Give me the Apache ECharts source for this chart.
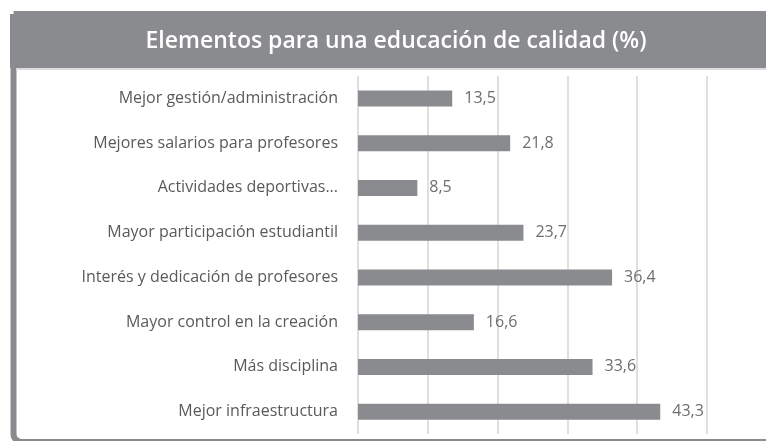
<!DOCTYPE html>
<html>
<head>
<meta charset="utf-8">
<title>Elementos para una educación de calidad</title>
<script src="https://cdn.jsdelivr.net/npm/echarts@6/dist/echarts.min.js"></script>
<style>
  html, body { margin: 0; padding: 0; background: #fff; }
  #chart { width: 766px; height: 441px; }
</style>
</head>
<body>
<div id="chart"></div>
<script>
// datos, de arriba hacia abajo
var titulo = 'Elementos para una educación de calidad (%)'
var categorias = [
  'Mejor gestión/administración',
  'Mejores salarios para profesores',
  'Actividades deportivas...',
  'Mayor participación estudiantil',
  'Interés y dedicación de profesores',
  'Mayor control en la creación',
  'Más disciplina',
  'Mejor infraestructura'
]
var valores = [13.5, 21.8, 8.5, 23.7, 36.4, 16.6, 33.6, 43.3]
var ejeMax = 50
var ejePaso = 10

var gris = '#8a8b8f'
var chart = echarts.init(document.getElementById('chart'))

var option = {
  animation: false,
  backgroundColor: '#fff',
  title: {
    text: titulo,
    left: 391,
    top: 25,
    textAlign: 'center',
    textStyle: {
      color: '#fff',
      fontFamily: 'Open Sans',
      fontWeight: 600,
      fontSize: 23
    }
  },
  graphic: [
    {
      type: 'rect',
      z: -1,
      shape: { x: 13.5, y: 14, width: 800, height: 428, r: [0, 0, 0, 8] },
      style: { fill: 'none', stroke: gris, lineWidth: 6 }
    },
    {
      type: 'rect',
      z: -1,
      shape: { x: 10, y: 14, width: 760, height: 54 },
      style: { fill: gris }
    },
    {
      type: 'rect',
      z: -1,
      shape: { x: 16, y: 68, width: 760, height: 2 },
      style: { fill: '#dcdcde' }
    }
  ],
  grid: {
    left: 358,
    right: 59,
    top: 76,
    bottom: 7,
    containLabel: false
  },
  xAxis: {
    type: 'value',
    min: 0,
    max: ejeMax,
    interval: ejePaso,
    axisLabel: { show: false },
    axisLine: { show: false },
    axisTick: { show: false },
    splitLine: { lineStyle: { color: '#d4d4d6', width: 1.5 } }
  },
  yAxis: {
    type: 'category',
    inverse: true,
    data: categorias,
    axisLine: { show: false },
    axisTick: { show: false },
    axisLabel: {
      margin: 20,
      color: '#5a5a5a',
      fontFamily: 'Open Sans',
      fontSize: 16
    }
  },
  series: [{
    type: 'bar',
    data: valores,
    barWidth: 16,
    itemStyle: { color: gris },
    label: {
      show: true,
      position: 'right',
      distance: 12,
      color: '#6e6e70',
      fontFamily: 'Open Sans',
      fontSize: 16,
      formatter: function (p) {
        return p.value.toFixed(1).replace('.', ',')
      }
    }
  }]
}

chart.setOption(option)
</script>
</body>
</html>
